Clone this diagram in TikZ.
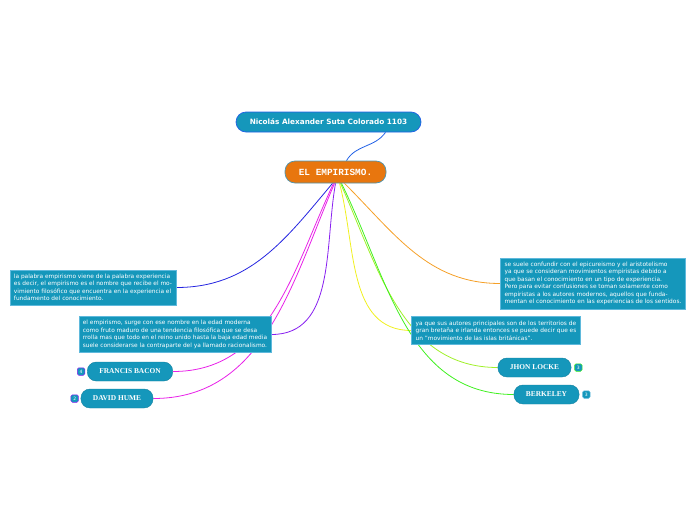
\documentclass[tikz,border=0pt]{standalone}
\usepackage{fontspec}
\setmainfont{DejaVu Sans}
\newfontfamily\pillfont{Liberation Serif}
\newfontfamily\monofont{Liberation Mono}
\usetikzlibrary{positioning,calc}
\definecolor{boxteal}{RGB}{21,151,187}
\definecolor{edgeteal}{RGB}{95,185,220}
\definecolor{mainorange}{RGB}{232,118,14}
\definecolor{titleblue}{RGB}{32,96,230}
\definecolor{linkblue}{RGB}{36,36,224}
\definecolor{linkpink}{RGB}{232,32,232}
\definecolor{linkviolet}{RGB}{136,32,240}
\definecolor{linkyellow}{RGB}{240,240,32}
\definecolor{linklime}{RGB}{160,240,40}
\definecolor{linkgreen}{RGB}{64,240,32}
\definecolor{linkorange}{RGB}{245,160,40}
\pgfdeclarelayer{bg}
\pgfsetlayers{bg,main}

\begin{document}
\begin{tikzpicture}[
    x=1pt, y=1pt,
    every node/.style={font=\fontsize{5.85}{7.5}\selectfont},
    link/.style={line width=0.8pt},
    textbox/.style={rectangle, draw=edgeteal, fill=boxteal, line width=0.6pt, text=white, align=left, inner xsep=4pt, inner ysep=4pt},
    pill/.style={rectangle, draw=boxteal!85!black, fill=boxteal, rounded corners=9pt, minimum height=19pt, inner xsep=12pt, text=white, font=\pillfont\bfseries\fontsize{7.4}{8}\selectfont},
    badge/.style={rectangle, fill=boxteal, rounded corners=1.5pt, line width=0.5pt, minimum size=7.5pt, inner sep=0pt, text=white, font=\fontsize{4.5}{5}\selectfont}
]
    \useasboundingbox (0,0) rectangle (696,-520);

    \node (title) [rectangle, draw=titleblue, fill=boxteal, rounded corners=10pt, minimum width=185pt, minimum height=20pt, line width=0.7pt, text=white, font=\bfseries\fontsize{7.3}{8}\selectfont] at (328.5,-122) {Nicolás Alexander Suta Colorado 1103};
    \node (main) [rectangle, draw=edgeteal!80!black, fill=mainorange, rounded corners=10pt, minimum width=101pt, minimum height=22pt, line width=0.7pt, text=white, font=\monofont\bfseries\fontsize{9.4}{10}\selectfont] at (335.5,-172) {EL EMPIRISMO.};

    \node (origen) [textbox] at (93,-287.5) {la palabra empirismo viene de la palabra experiencia\\es decir, el empirismo es el nombre que recibe el mo-\\vimiento filosófico que encuentra en la experiencia el\\fundamento del conocimiento.};
    \node (surge) [textbox] at (175,-334.5) {el empirismo, surge con ese nombre en la edad moderna\\como fruto maduro de una tendencia filosófica que se desa\\rrolla mas que todo en el reino unido hasta la baja edad media\\suele considerarse la contraparte del ya llamado racionalismo.};
    \node (confusion) [textbox] at (593,-283.5) {se suele confundir con el epicureismo y el aristotelismo\\ya que se consideran movimientos empiristas debido a\\que basan el conocimiento en un tipo de experiencia.\\Pero para evitar confusiones se toman solamente como\\empiristas a los autores modernos, aquellos que funda-\\mentan el conocimiento en las experiencias de los sentidos.};
    \node (islas) [textbox] at (496,-330.5) {ya que sus autores principales son de los territorios de\\gran bretaña e irlanda entonces se puede decir que es\\un "movimiento de las islas británicas".};

    \node (bacon) [pill] at (130,-371.5) {FRANCIS BACON};
    \node (hume) [pill] at (117,-398.5) {DAVID HUME};
    \node (locke) [pill] at (534.5,-367.5) {JHON LOCKE};
    \node (berkeley) [pill] at (546.5,-394.5) {BERKELEY};

    \node (baconnum) [badge, draw=linkviolet, left=2pt of bacon] {4};
    \node (humenum) [badge, draw=linkviolet, left=2pt of hume] {2};
    \node (lockenum) [badge, draw=linkgreen, right=3pt of locke] {3};
    \node (berkeleynum) [badge, draw=edgeteal, right=3pt of berkeley] {3};

    \begin{pgfonlayer}{bg}
    \draw[link, titleblue] ([xshift=57pt]title.south) to[out=-125, in=60] ([xshift=11pt]main.north);
    \draw[link, linkblue] ([xshift=-3pt]main.south) to[out=-130, in=0] (origen.east);
    \draw[link, linkpink] ([xshift=-2pt]main.south) to[out=-115, in=0] (bacon.east);
    \draw[link, linkpink] ([xshift=-1pt]main.south) to[out=-113, in=0] (hume.east);
    \draw[link, linkviolet] ([xshift=0pt]main.south) to[out=-100, in=0] (surge.east);
    \draw[link, linkyellow] ([xshift=4pt]main.south) to[out=-75, in=180] (islas.west);
    \draw[link, linklime] ([xshift=5pt]main.south) to[out=-66, in=180] (locke.west);
    \draw[link, linkgreen] ([xshift=6pt]main.south) to[out=-64, in=180] (berkeley.west);
    \draw[link, linkorange] ([xshift=9pt]main.south) to[out=-45, in=180] (confusion.west);
    \end{pgfonlayer}
\end{tikzpicture}
\end{document}
